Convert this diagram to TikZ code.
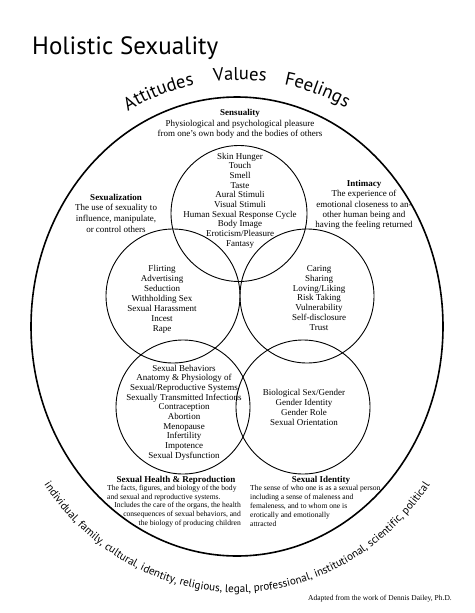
\documentclass[tikz,border=0pt]{standalone}
\usepackage{fontspec}
\setmainfont{Liberation Serif}
\newfontfamily\hsans{PT Sans}
\usetikzlibrary{decorations.text,calc}
\begin{document}
\begin{tikzpicture}[x=1pt,y=-1pt,
  ring/.style={draw, circle, line width=0.9pt, inner sep=0pt, minimum size=134pt},
  lst/.style={align=center, inner sep=0pt, font=\fontsize{9}{9.7}\selectfont},
  blk/.style={align=center, inner sep=0pt, font=\fontsize{9}{10.5}\selectfont},
  sm/.style={inner sep=0pt, font=\fontsize{7.6}{9}\selectfont},
  hd/.style={inner sep=0pt, font=\bfseries\fontsize{9}{10}\selectfont},
  arcword/.style={decorate, decoration={text along path, text align=center,
     text={|\hsans\fontsize{18.5}{18.5}\selectfont|#1}}}
]
\useasboundingbox (0,0) rectangle (474,613);
\fill[white] (0,0) rectangle (474,613);

% title
\node[anchor=base west, inner sep=0pt, font=\hsans\fontsize{25}{25}\selectfont] (title) at (32,54) {Holistic Sexuality};

% outer ellipse
\coordinate (ec) at (237,326.5);
\draw[line width=1.6pt] (ec) ellipse [x radius=206, y radius=229.5];

% top arc words
\coordinate (tc) at (240,297);
\path[arcword=Attitudes] ($(tc)+(-126.6:217)$) arc[start angle=-126.6, end angle=-96.6, radius=217];
\path[arcword=Values] ($(tc)+(-105:217)$) arc[start angle=-105, end angle=-75, radius=217];
\path[arcword=Feelings] ($(tc)+(-84.5:217)$) arc[start angle=-84.5, end angle=-54.5, radius=217];

% bottom arc text (along an ellipse concentric with the outer one)
\path[decorate, decoration={text along path, text align=center,
  text={|\hsans\fontsize{11.1}{11.1}\selectfont|individual, family, cultural, identity, religious, legal, professional, institutional, scientific, political}}]
  ($(ec)+({240*cos(148)},{266*sin(148)})$) arc[start angle=148, end angle=32, x radius=240, y radius=266];

% circles
\node[ring, minimum size=136pt] (csen) at (239,213.5) {};
\node[ring] (csxz) at (173,296) {};
\node[ring] (cint) at (307,296) {};
\node[ring] (chlt) at (183,407) {};
\node[ring] (cidn) at (303,407) {};

% texts
\node[blk] (tsen) at (240,124) {\textbf{Sensuality}\\Physiological and psychological pleasure\\from one’s own body and the bodies of others};
\node[lst] (lsen) at (240,200.5) {Skin Hunger\\Touch\\Smell\\Taste\\Aural Stimuli\\Visual Stimuli\\Human Sexual Response Cycle\\Body Image\\Eroticism/Pleasure\\Fantasy};
\node[align=center, inner sep=0pt, font=\fontsize{9}{10.7}\selectfont] (tsxz) at (116,213) {\textbf{Sexualization}\\The use of sexuality to\\influence, manipulate,\\or control others};
\node[align=center, inner sep=0pt, font=\fontsize{9}{10.3}\selectfont] (tint) at (364,205) {\textbf{Intimacy}\\The experience of\\emotional closeness to an-\\other human being and\\having the feeling returned};
\node[lst, font=\fontsize{9}{10}\selectfont] (lsxz) at (162,299) {Flirting\\Advertising\\Seduction\\Withholding Sex\\Sexual Harassment\\Incest\\Rape};
\node[lst] (lint) at (319,298) {Caring\\Sharing\\Loving/Liking\\Risk Taking\\Vulnerability\\Self-disclosure\\Trust};
\node[lst] (lhlt) at (184,412.5) {Sexual Behaviors\\Anatomy \& Physiology of\\Sexual/Reproductive Systems\\Sexually Transmitted Infections\\Contraception\\Abortion\\Menopause\\Infertility\\Impotence\\Sexual Dysfunction};
\node[lst, font=\fontsize{9}{10}\selectfont] (lidn) at (304,407) {Biological Sex/Gender\\Gender Identity\\Gender Role\\Sexual Orientation};

\node[hd] (thlt) at (176,480) {Sexual Health \& Reproduction};
\node[hd] (tidn) at (321,480) {Sexual Identity};
\node[sm, anchor=north west, align=left] (bhlt1) at (107,485) {The facts, figures, and biology of the body\\and sexual and reproductive systems.};
\node[sm, anchor=north east, align=right] (bhlt2) at (241,502) {Includes the care of the organs, the health\\consequences of sexual behaviors, and\\the biology of producing children};
\node[sm, anchor=north west, align=left] (bidn) at (250,485) {The sense of who one is as a sexual person\\including a sense of maleness and\\femaleness, and to whom one is\\erotically and emotionally\\attracted};

\node[anchor=east, inner sep=0pt, font=\fontsize{7.5}{9}\selectfont] (cred) at (452,599) {Adapted from the work of Dennis Dailey, Ph.D.};
\end{tikzpicture}
\end{document}
